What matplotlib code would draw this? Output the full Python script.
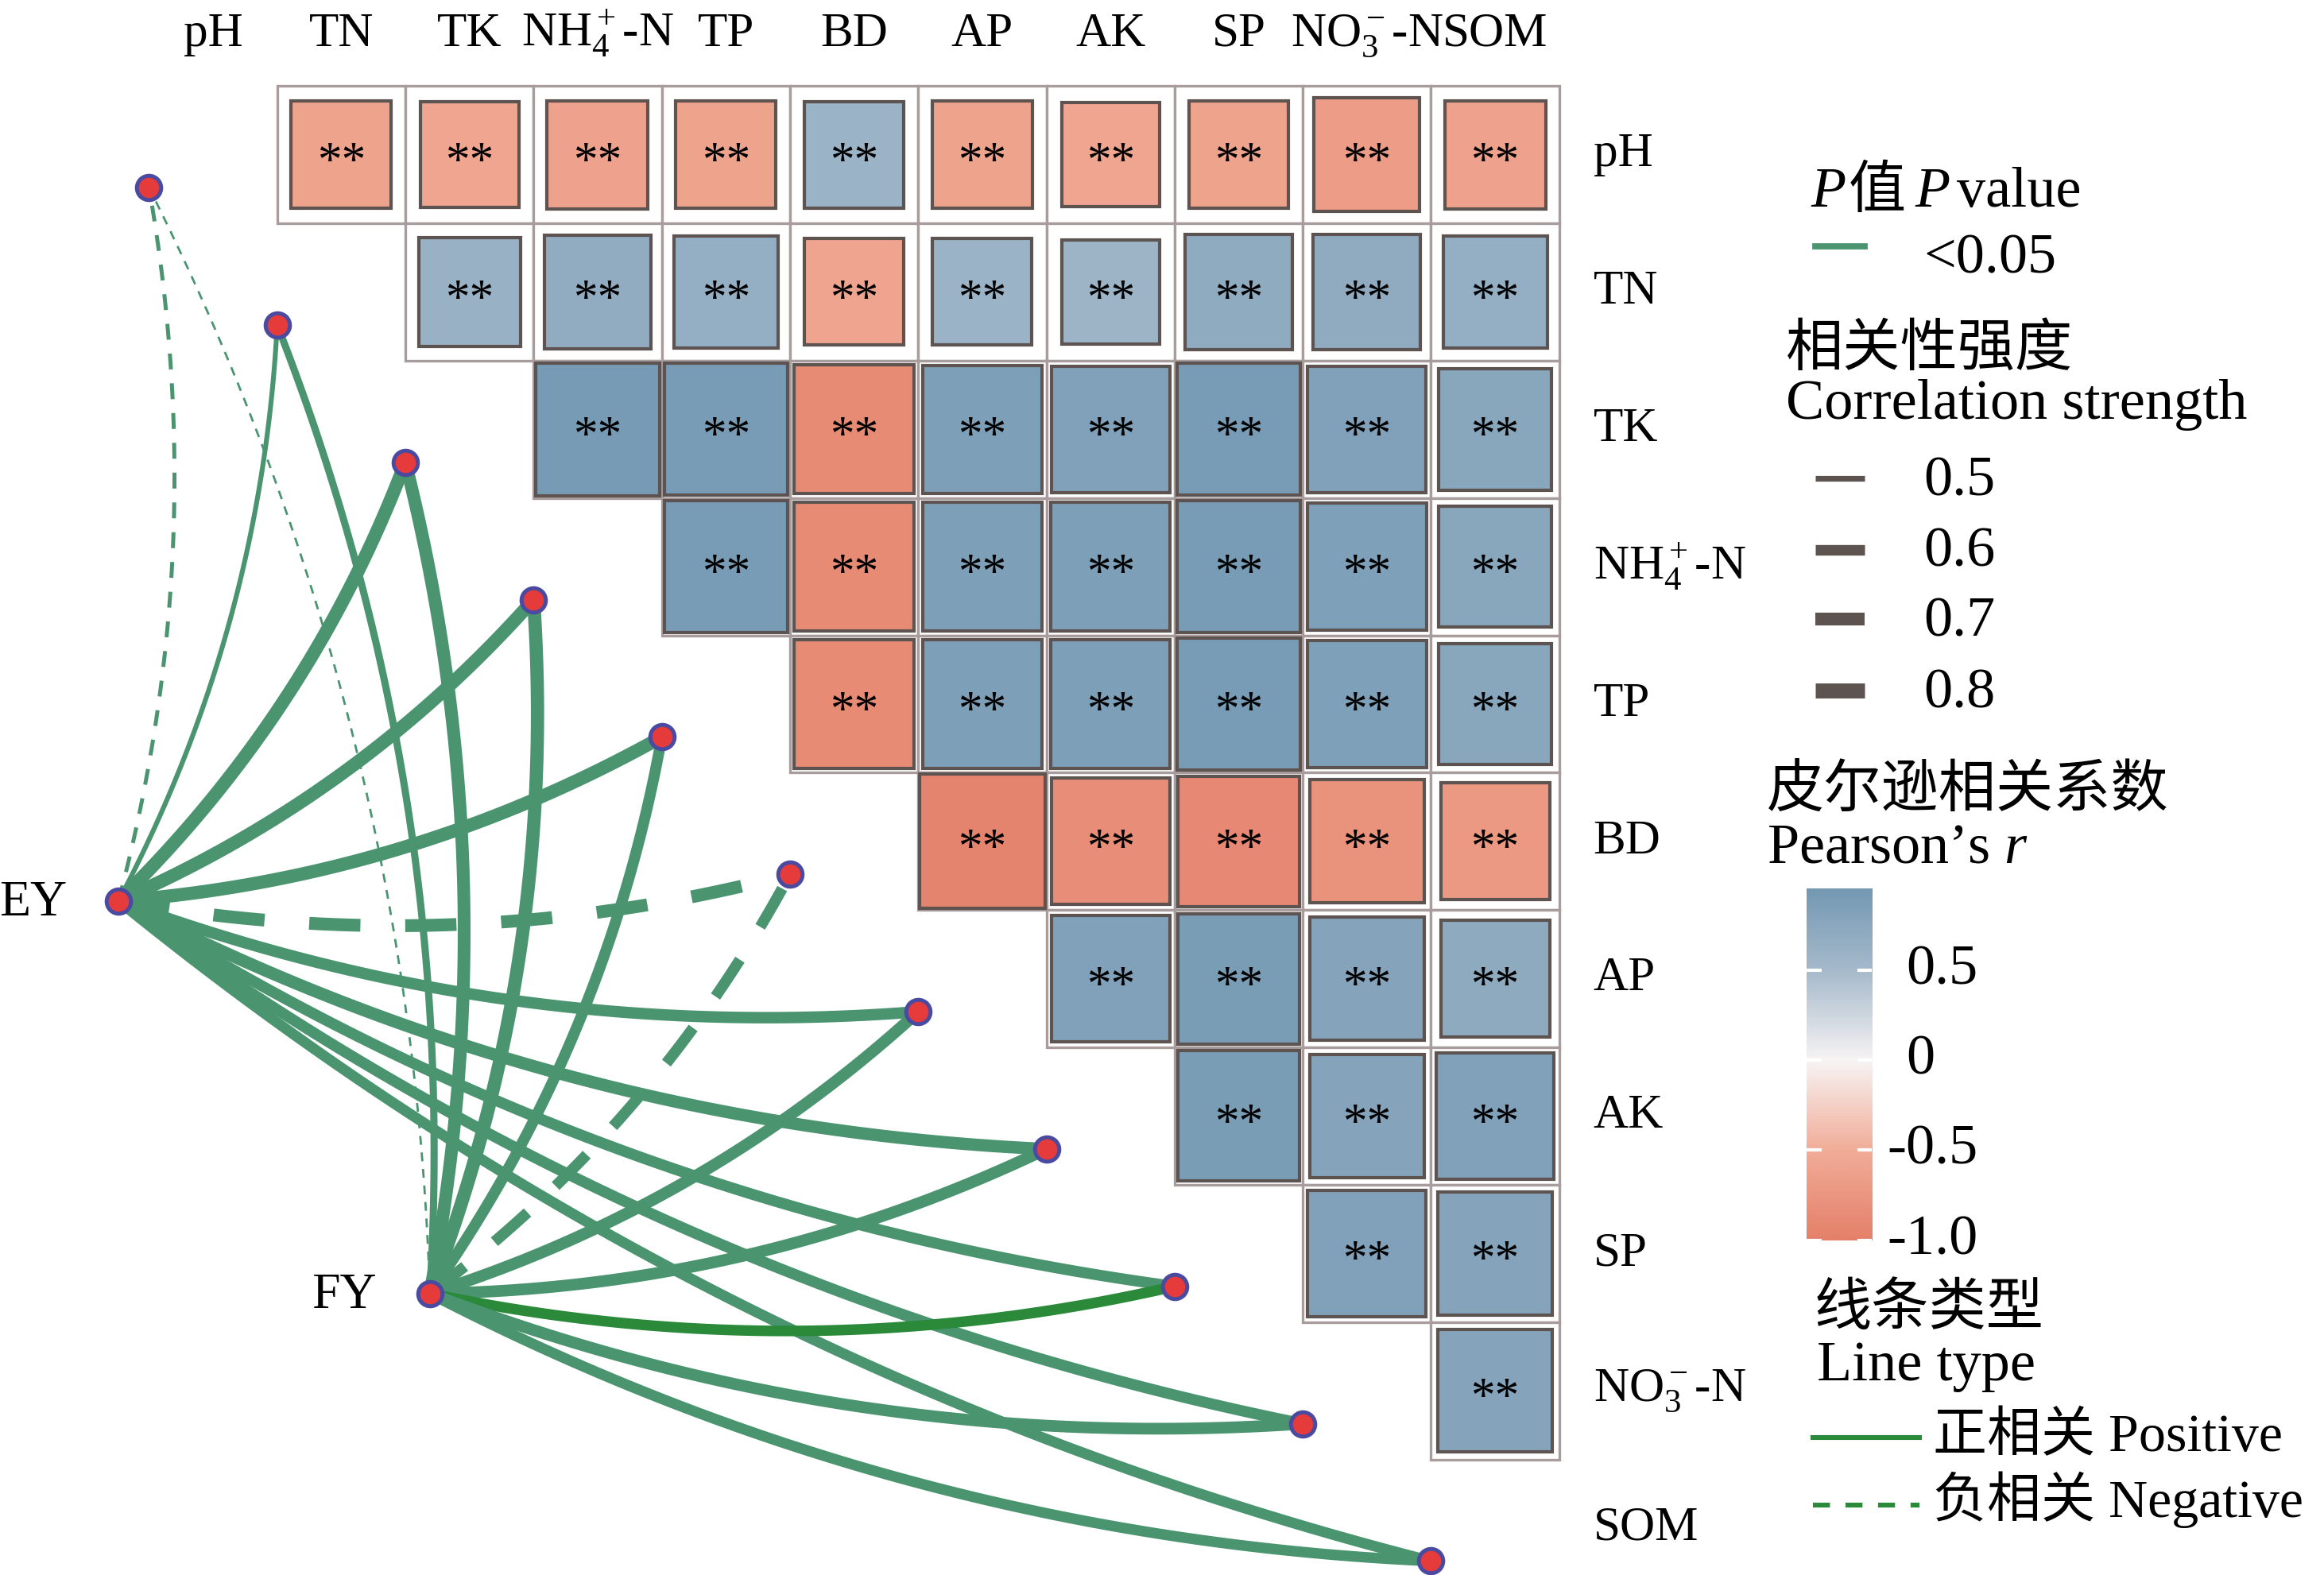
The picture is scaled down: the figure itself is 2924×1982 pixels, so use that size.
import numpy as np
import matplotlib
matplotlib.use('Agg')
import matplotlib.pyplot as plt
from matplotlib.colors import LinearSegmentedColormap, Normalize
from matplotlib.patches import Rectangle

plt.rcParams['font.family'] = ['Liberation Serif', 'Noto Sans CJK SC', 'DejaVu Sans']
plt.rcParams['mathtext.fontset'] = 'custom'
plt.rcParams['mathtext.rm'] = 'Liberation Serif'
plt.rcParams['mathtext.it'] = 'Liberation Serif:italic'
plt.rcParams['mathtext.bf'] = 'Liberation Serif:bold'

# ---------------- data ----------------
variables = ['pH', 'TN', 'TK', 'NH$_4^+$-N', 'TP', 'BD', 'AP', 'AK', 'SP', 'NO$_3^-$-N', 'SOM']

# upper-triangle Pearson r (row variable vs following variables)
r_pH = [-0.61, -0.59, -0.62, -0.61, 0.60, -0.61, -0.58, -0.61, -0.68, -0.62]
r_TN = [0.63, 0.69, 0.66, -0.60, 0.60, 0.58, 0.71, 0.70, 0.66]
r_TK = [0.93, 0.92, -0.88, 0.87, 0.85, 0.92, 0.85, 0.78]
r_NH4 = [0.92, -0.88, 0.87, 0.87, 0.92, 0.86, 0.78]
r_TP = [-0.88, 0.87, 0.87, 0.92, 0.86, 0.78]
r_BD = [-0.96, -0.85, -0.90, -0.80, -0.72]
r_AP = [0.85, 0.90, 0.80, 0.72]
r_AK = [0.90, 0.80, 0.85]
r_SP = [0.85, 0.80]
r_NO3 = [0.80]
r_rows = [r_pH, r_TN, r_TK, r_NH4, r_TP, r_BD, r_AP, r_AK, r_SP, r_NO3]
sig_label = '**'

env_names = ['EY', 'FY']
# correlation of EY / FY with each soil variable (links)
link_EY = [-0.46, 0.48, 0.72, 0.72, 0.72, -0.70, 0.64, 0.68, 0.62, 0.62, 0.60]
link_FY = [-0.42, 0.53, 0.70, 0.72, 0.62, -0.62, 0.65, 0.65, 0.60, 0.65, 0.60]
link_r = [link_EY, link_FY]

size_breaks = [0.5, 0.6, 0.7, 0.8]
size_widths = [2.6, 4.8, 5.8, 6.8]
cbar_ticks = [0.5, 0, -0.5, -1.0]
cbar_labels = ['0.5', '0', '-0.5', '-1.0']

# ---------------- layout ----------------
W, H = 1568.0, 1063.0
CW, CH = 86.5, 92.7
X0, Y0 = 100.5, 58.0


def px(x, y):
    return (x - X0) / CW, (y - Y0) / CH


env_pos = [px(80, 608), px(290, 873)]
cmap = LinearSegmentedColormap.from_list(
    'pear', [(0.0, '#e4806a'), (0.25, '#f1ad98'), (0.5, '#f7f4f4'),
             (0.75, '#a6bacb'), (1.0, '#7096b1')])
norm = Normalize(-1, 1)
link_color = '#4a9470'
pos_color = '#2a8a3a'
link_colors = [[link_color] * 11, [link_color] * 8 + [pos_color] + [link_color] * 2]

fig = plt.figure(figsize=(14.62, 9.91), dpi=200)
ax = fig.add_axes([0, 0, 1, 1])
xl0, yl0 = px(0, 0)
xl1, yl1 = px(W, H)
ax.set_xlim(xl0, xl1)
ax.set_ylim(yl1, yl0)
ax.axis('off')

# ---------------- heatmap ----------------
for i, row in enumerate(r_rows):
    for m, r in enumerate(row):
        k = i + 1 + m
        ax.add_patch(Rectangle((k, i), 1, 1, facecolor='white', edgecolor='#a89c9c',
                               lw=1.2, zorder=1))
        s = np.sqrt(abs(r))
        ax.add_patch(Rectangle((k + 0.5 - s / 2, i + 0.5 - s / 2), s, s,
                               facecolor=cmap(norm(r)), edgecolor='#5d5350',
                               lw=1.5, zorder=2))
        ax.text(k + 0.5, i + 0.56, sig_label, ha='center', va='center',
                fontsize=22, zorder=3)

# top and right labels
for k, v in enumerate(variables):
    ax.text(k + 0.5, px(0, 31)[1], v, ha='center', va='baseline', fontsize=22)
    ax.text(px(1075, 0)[0], k + 0.5, v, ha='left', va='center', fontsize=22)


def lw_of(r):
    a = abs(r)
    if a >= 0.5:
        return float(np.interp(a, size_breaks, size_widths))
    return max(0.8, size_widths[0] - (0.5 - a) * 20)


# ---------------- links ----------------
t = np.linspace(0, 1, 100)
for e, (ex, ey) in enumerate(env_pos):
    for k, r in enumerate(link_r[e]):
        nx, ny = k, k + 0.74
        p0 = np.array([ex * CW, ey * CH])
        p1 = np.array([nx * CW, ny * CH])
        d = p1 - p0
        c = (p0 + p1) / 2 + 0.11 * np.array([-d[1], d[0]])
        pts = ((1 - t)[:, None] ** 2) * p0 + (2 * (1 - t) * t)[:, None] * c + (t[:, None] ** 2) * p1
        ls = '-' if r > 0 else (0, (4, 3.5))
        ax.plot(pts[:, 0] / CW, pts[:, 1] / CH, color=link_colors[e][k], lw=lw_of(r),
                ls=ls, solid_capstyle='butt', dash_capstyle='butt', zorder=4)

# nodes
node_x = np.arange(len(variables))
node_y = node_x + 0.74
ax.plot(node_x, node_y, 'o', ms=11, mfc='#e63b3b', mec='#4a4aa0', mew=1.8, zorder=6, ls='none')
ax.plot([p[0] for p in env_pos], [p[1] for p in env_pos], 'o', ms=11, mfc='#e63b3b',
        mec='#4a4aa0', mew=1.8, zorder=6, ls='none')
ax.text(*px(45, 610), env_names[0], ha='right', va='center', fontsize=23)
ax.text(*px(254, 875), env_names[1], ha='right', va='center', fontsize=23)

# ---------------- legends ----------------
FS = 26
ax.text(*px(1222, 130), 'P', ha='left', va='center', fontsize=FS, style='italic')
ax.text(*px(1247, 130), '值', ha='left', va='center', fontsize=FS)
ax.text(*px(1292, 130), 'P', ha='left', va='center', fontsize=FS, style='italic')
ax.text(*px(1320, 130), 'value', ha='left', va='center', fontsize=FS)
ax.plot([px(1225, 0)[0], px(1258, 0)[0]], [px(0, 166)[1]] * 2, color=link_color, lw=2.8)
ax.text(*px(1298, 175), '<0.05', ha='left', va='center', fontsize=FS)

ax.text(*px(1205, 237), '相关性强度', ha='left', va='center', fontsize=FS)
ax.text(*px(1205, 273), 'Correlation strength', ha='left', va='center', fontsize=FS)
for yy, b, w in zip([323, 371, 418, 466], size_breaks, size_widths):
    ax.plot([px(1225, 0)[0], px(1258, 0)[0]], [px(0, yy)[1]] * 2, color='#5d5350',
            lw=w, solid_capstyle='butt')
    ax.text(*px(1298, yy + 2), f'{b:.1f}', ha='left', va='center', fontsize=FS)

ax.text(*px(1192, 535), '皮尔逊相关系数', ha='left', va='center', fontsize=FS)
ax.text(*px(1192, 573), 'Pearson’s $\\mathit{r}$', ha='left', va='center', fontsize=FS)

# colorbar
cb_l, cb_r, cb_t, cb_b = 1219, 1263, 599.5, 837
top_v, bot_v = 0.956, -1.0
cax = fig.add_axes([cb_l / W, 1 - cb_b / H, (cb_r - cb_l) / W, (cb_b - cb_t) / H])
grad = np.linspace(top_v, bot_v, 300)[:, None]
cax.imshow(grad, cmap=cmap, norm=norm, aspect='auto', extent=[0, 1, bot_v, top_v])
cax.set_xlim(0, 1)
cax.set_ylim(bot_v, top_v)
cax.axis('off')
for v in cbar_ticks:
    cax.plot([0, 0.2], [v, v], color='white', lw=1.5)
    cax.plot([0.8, 1], [v, v], color='white', lw=1.5)
for v, lab in zip(cbar_ticks, cbar_labels):
    yy = cb_t + (top_v - v) / (top_v - bot_v) * (cb_b - cb_t)
    xx = 1286 if not lab.startswith('-') else 1273
    ax.text(*px(xx, yy), lab, ha='left', va='center', fontsize=FS)

ax.text(*px(1224, 884), '线条类型', ha='left', va='center', fontsize=FS)
ax.text(*px(1226, 922), 'Line type', ha='left', va='center', fontsize=FS)
ax.plot([px(1223, 0)[0], px(1295, 0)[0]], [px(0, 970)[1]] * 2, color=pos_color, lw=2.2)
ax.text(*px(1304, 970), '正相关 Positive', ha='left', va='center', fontsize=24.5)
ax.plot([px(1223, 0)[0], px(1295, 0)[0]], [px(0, 1016)[1]] * 2, color=pos_color, lw=2.2,
        ls=(0, (3.5, 3.2)))
ax.text(*px(1304, 1012), '负相关 Negative', ha='left', va='center', fontsize=24.5)

fig.savefig('out.png', dpi=200)
